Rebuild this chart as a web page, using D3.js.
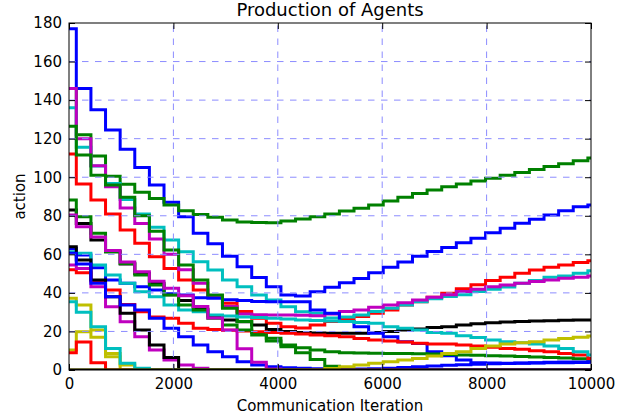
<!DOCTYPE html>
<html>
<head>
<meta charset="utf-8">
<script src="https://cdn.jsdelivr.net/npm/d3@7"></script>
<style>
  body { margin: 0; background: #fff; }
  svg { display: block; font-family: "DejaVu Sans", sans-serif; }
</style>
</head>
<body>
<div id="chart"></div>
<script>
// sample points of the communication iteration (one value per step)
const iterations = [0, 280, 560, 840, 1120, 1400, 1680, 1960, 2240, 2520, 2800, 3080, 3360, 3640, 3920, 4200, 4480, 4760, 5040, 5320, 5600, 5880, 6160, 6440, 6720, 7000, 7280, 7560, 7840, 8120, 8400, 8680, 8960, 9240, 9520, 9800, 10080]

const xTicks = [0, 2000, 4000, 6000, 8000, 10000]
const yTicks = [0, 20, 40, 60, 80, 100, 120, 140, 160, 180]

// first group of agents
const blue1 = [177, 146, 135, 124.5, 114.5, 105, 96, 87, 79.5, 71, 65.5, 59, 53.6, 48, 43.2, 38.9, 38.4, 40.6, 42.9, 45.3, 47.5, 50.5, 53.3, 56, 59, 61.5, 63.6, 66, 68.3, 71.2, 73.5, 76.1, 78.2, 80.4, 82.6, 84.7, 85.6]
const green1 = [146, 122, 111, 100.5, 96.3, 92.2, 89, 85.6, 82.6, 80.7, 79.2, 77.8, 76.8, 76.5, 76.4, 77.3, 78.3, 79.5, 80.9, 82.5, 83.9, 85.6, 87.7, 89.6, 91.6, 93.4, 95, 96.5, 98, 99.5, 101, 102.5, 104, 105.5, 107, 108.5, 110]
const red1 = [112, 96.5, 88.2, 80.9, 72.6, 65.7, 58.8, 52.7, 46.7, 41.5, 38, 34.6, 30.3, 26.8, 24.2, 22.5, 21.8, 23.3, 25.1, 26.3, 27.7, 29.4, 31.1, 33.7, 35.4, 37.8, 39.8, 42.1, 44.2, 46.4, 48.1, 50.2, 51.9, 53.3, 54.5, 55.8, 56.7]
const cyan1 = [136, 115.5, 105.8, 96.8, 88.5, 80.9, 74, 67.4, 61.4, 56.2, 51.9, 46.7, 43.2, 38.9, 36.3, 32.8, 30.2, 29.4, 27, 27.5, 28.5, 30.3, 32, 33.7, 35.4, 37, 38.1, 39, 40.7, 41.9, 43, 45, 46.4, 48.1, 48.8, 50.2, 51.5]
const magenta1 = [146, 120, 106, 95, 84, 76, 68, 60, 52, 45, 38.5, 33, 29, 28.6, 28.5, 28.5, 28.4, 28.2, 29, 30.3, 31.1, 32.5, 33.7, 34.9, 36.3, 37.8, 39, 40.7, 41.9, 43.2, 44.1, 45, 45.9, 46.7, 47.6, 48.1, 48.8]
const yellow1 = [37.2, 33.7, 20.7, 8.6, 0, 0, 0, 0, 0, 0, 0, 0, 0, 0, 0, 0, 0, 0, 0, 0, 0, 0, 0, 0, 0, 0, 0, 0, 0, 0, 0, 0, 0, 0, 0, 0, 0]
const black1 = [83, 76, 67.4, 61.4, 55, 50, 45, 39, 36, 31.5, 28, 26, 25, 23.3, 21, 20, 19.5, 19.2, 19, 19, 19, 19.5, 20, 20.7, 21.3, 22.1, 22.5, 23.3, 24, 24.5, 24.9, 25.2, 25.4, 25.6, 25.8, 26, 26]

// second group
const blue2 = [63, 59.6, 53, 46.7, 45, 43.2, 41.5, 39.5, 38.9, 37.5, 37.2, 36.5, 36, 35.5, 35.4, 35.4, 35.4, 31.1, 29.4, 25.1, 22.5, 19, 17.3, 14.7, 13.8, 9.5, 7.4, 5.2, 3.8, 3.6, 3.5, 3.5, 3.6, 3.7, 3.8, 3.9, 4]
const green2 = [126.5, 111.5, 101, 96, 89.6, 80, 72, 62.2, 54.5, 46.7, 38.9, 32, 25.1, 19.5, 15, 13, 11.5, 10.4, 9.5, 9, 8.8, 8.7, 8.6, 8.5, 8.4, 8.3, 8, 7.8, 7.6, 7.4, 7.2, 7, 6.8, 6.5, 6.2, 5.9, 5.6]
const red2 = [52, 50.5, 46, 41.5, 34, 30.2, 27.5, 26.8, 24.2, 21.6, 21, 20.6, 20.2, 19.9, 19.4, 19, 18.7, 18.2, 17.8, 17.3, 16.4, 15.6, 15, 14.5, 13.9, 13.5, 13.5, 13, 12.4, 11.8, 11.2, 10.7, 10, 9.5, 8.6, 7.8, 6]
const cyan2 = [61.4, 60.5, 54.5, 49.3, 45, 40.6, 38, 33.7, 31.1, 30.2, 28.5, 28, 27.5, 27.2, 26.8, 26.4, 26, 25.7, 25.4, 25.1, 24.7, 24.2, 22.5, 21.6, 20.7, 19.4, 19, 17.8, 16.8, 15.6, 14.7, 14.2, 13.5, 12.4, 11.2, 9.5, 7.8]
const magenta2 = [54.5, 52.7, 43.2, 32.8, 25, 17.3, 10.4, 5.2, 2.6, 0.9, 0, 0, 0, 0, 0, 0, 0, 0, 0, 0, 0, 0, 0, 0, 0, 0, 0, 0, 0, 0, 0, 0, 0, 0, 0, 0, 0]
const yellow2 = [10.4, 19.9, 17, 6.9, 2.6, 0, 0, 0, 0, 0, 0, 0, 0, 0, 0, 0, 0, 0, 0, 0, 0, 0, 0, 0, 0, 0, 0, 0, 0, 0, 0, 0, 0, 0, 0, 0, 0]
const black2 = [63.9, 57, 46.7, 38, 29.5, 20.7, 13, 6.5, 0, 0, 0, 0, 0, 0, 0, 0, 0, 0, 0, 0, 0, 0, 0, 0, 0, 0, 0, 0, 0, 0, 0, 0, 0, 0, 0, 0, 0]

// third group
const blue3 = [60.5, 55, 45, 38, 33.7, 31.1, 26.8, 21.6, 17.3, 13, 9.5, 6.9, 4.3, 2.6, 1.7, 1.2, 0.9, 0.6, 0.4, 0.4, 0.5, 0.7, 0.9, 1.3, 1.7, 2.1, 2.4, 2.7, 3, 3.2, 3.4, 3.6, 3.8, 4, 4.1, 4.2, 4.3]
const green3 = [88.2, 79.5, 70.9, 61.4, 55.3, 49.3, 44.1, 38.9, 33.7, 31.1, 26.8, 23.3, 20.7, 18.2, 16.5, 12, 9, 5.5, 2, 0, 0, 0, 0, 0, 0, 0, 0, 0, 0, 0, 0, 0, 0, 0, 0, 0, 0]
const red3 = [9, 14.5, 3.8, 0, 0, 0, 0, 0, 0, 0, 0, 0, 0, 0, 0, 0, 0, 0, 0, 0, 0, 0, 0, 0, 0, 0, 0, 0, 0, 0, 0, 0, 0, 0, 0, 0, 0]
const cyan3 = [35.4, 30, 22.5, 11.2, 3.5, 0.9, 0, 0, 0, 0, 0, 0, 0, 0, 0, 0, 0, 0, 0, 0, 0, 0, 0, 0, 0, 0, 0, 0, 0, 0, 0, 0, 0, 0, 0, 0, 0]
const magenta3 = [80.4, 74.3, 69, 62, 56, 51, 46, 42.4, 38.5, 33, 27, 20.7, 11, 4, 0.5, 0, 0, 0, 0, 0, 0, 0, 0, 0, 0, 0, 0, 0, 0, 0, 0, 0, 0, 0, 0, 0, 0]
const yellow3 = [0, 0, 0, 0, 0, 0, 0, 0, 0, 0, 0, 0, 0, 0, 0, 0, 0, 0, 0.8, 1.7, 2.6, 3.5, 4.3, 5.2, 6, 7.3, 8.6, 9.5, 11.2, 12.4, 13.5, 14.2, 14.7, 15.6, 16.3, 17, 17.6]
const black3 = [0, 0, 0, 0, 0, 0, 0, 0, 0, 0, 0, 0, 0, 0, 0, 0, 0, 0, 0, 0, 0, 0, 0, 0, 0, 0, 0, 0, 0, 0, 0, 0, 0, 0, 0, 0, 0]

// matplotlib classic colour cycle
const colors = {b: '#0000ff', g: '#008000', r: '#ff0000', c: '#00bfbf', m: '#bf00bf', y: '#bfbf00', k: '#000000'}

const series = [
    ['b', blue1], ['g', green1], ['r', red1], ['c', cyan1], ['m', magenta1], ['y', yellow1], ['k', black1],
    ['b', blue2], ['g', green2], ['r', red2], ['c', cyan2], ['m', magenta2], ['y', yellow2], ['k', black2],
    ['b', blue3], ['g', green3], ['r', red3], ['c', cyan3], ['m', magenta3], ['y', yellow3], ['k', black3]
]

function draw(el) {
    const dimensions = {
        width: 632,
        height: 415,
        margin: {top: 23, right: 41, bottom: 45, left: 69}
    }
    const innerW = dimensions.width - dimensions.margin.left - dimensions.margin.right
    const innerH = dimensions.height - dimensions.margin.top - dimensions.margin.bottom

    const svg = d3.select(el)
        .append('svg')
        .attr('width', dimensions.width)
        .attr('height', dimensions.height)

    const g = svg.append('g')
        .attr('transform', `translate(${dimensions.margin.left},${dimensions.margin.top})`)

    const x = d3.scaleLinear().domain([0, 10000]).range([0, innerW])
    const y = d3.scaleLinear().domain([0, 180]).range([innerH, 0])

    g.append('clipPath')
        .attr('id', 'plot-clip')
        .append('rect')
        .attr('width', innerW)
        .attr('height', innerH)

    // step lines, change at the midpoint between samples
    const line = d3.line()
        .x(d => x(d[0]))
        .y(d => y(d[1]))
        .curve(d3.curveStep)

    g.append('g')
        .attr('clip-path', 'url(#plot-clip)')
        .selectAll('path')
        .data(series)
        .join('path')
        .attr('d', d => line(iterations.map((it, i) => [it, d[1][i]])))
        .attr('fill', 'none')
        .attr('stroke', d => colors[d[0]])
        .attr('stroke-width', 3)

    // dashed blue grid (drawn above lines, as in the classic style)
    const grid = g.append('g')
        .attr('stroke', '#8c8cff')
        .attr('stroke-width', 1)
        .attr('stroke-dasharray', '6.5,6.5')
    grid.selectAll('.gx')
        .data(xTicks.slice(1, -1))
        .join('line')
        .attr('x1', d => x(d)).attr('x2', d => x(d))
        .attr('y1', innerH).attr('y2', 0)
    grid.selectAll('.gy')
        .data(yTicks.slice(1, -1))
        .join('line')
        .attr('y1', d => y(d)).attr('y2', d => y(d))
        .attr('x1', 0).attr('x2', innerW)

    // axes with inward ticks on all four sides
    const styleAxis = sel => {
        sel.select('.domain').remove()
        sel.attr('font-family', '"DejaVu Sans", sans-serif').attr('font-size', 15)
        sel.selectAll('.tick line').attr('stroke', '#000')
        sel.selectAll('.tick text').attr('fill', '#000')
    }

    g.append('g')
        .attr('transform', `translate(0,${innerH})`)
        .call(d3.axisBottom(x).tickValues(xTicks).tickSizeInner(-6).tickSizeOuter(0).tickPadding(8).tickFormat(d3.format('d')))
        .call(styleAxis)
    g.append('g')
        .call(d3.axisTop(x).tickValues(xTicks).tickSizeInner(-6).tickSizeOuter(0).tickFormat(''))
        .call(styleAxis)
    g.append('g')
        .call(d3.axisLeft(y).tickValues(yTicks).tickSizeInner(-6).tickSizeOuter(0).tickPadding(7))
        .call(styleAxis)
    g.append('g')
        .attr('transform', `translate(${innerW},0)`)
        .call(d3.axisRight(y).tickValues(yTicks).tickSizeInner(-6).tickSizeOuter(0).tickFormat(''))
        .call(styleAxis)

    g.append('rect')
        .attr('width', innerW)
        .attr('height', innerH)
        .attr('fill', 'none')
        .attr('stroke', '#000')
        .attr('stroke-width', 1)

    // title and axis labels
    svg.append('text')
        .attr('x', dimensions.margin.left + innerW / 2)
        .attr('y', 16)
        .attr('text-anchor', 'middle')
        .attr('font-size', 18)
        .text('Production of Agents')

    svg.append('text')
        .attr('x', dimensions.margin.left + innerW / 2)
        .attr('y', 411)
        .attr('text-anchor', 'middle')
        .attr('font-size', 15)
        .text('Communication Iteration')

    svg.append('text')
        .attr('transform', `translate(25,${dimensions.margin.top + innerH / 2}) rotate(-90)`)
        .attr('text-anchor', 'middle')
        .attr('font-size', 15)
        .text('action')
}

draw('#chart')
</script>
</body>
</html>
